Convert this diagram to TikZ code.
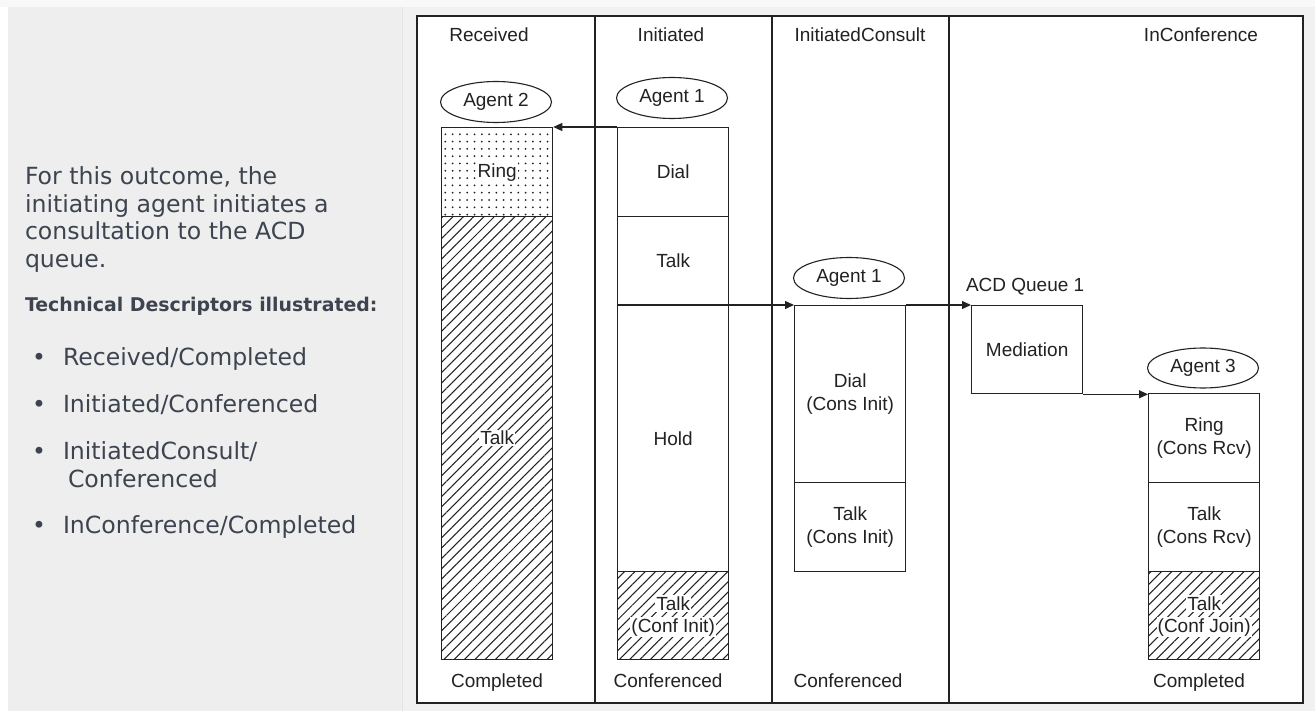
\documentclass[tikz,border=0pt]{standalone}
\usepackage{fontspec}
\usetikzlibrary{shapes.geometric,arrows.meta,patterns.meta}
\newfontfamily\diagfont{Liberation Sans}
\newfontfamily\bodyfont{DejaVu Sans}
\newcommand\dgfont{\diagfont\fontsize{19}{23}\selectfont}
\newcommand\bdfont{\bodyfont\fontsize{23.6}{27.4}\selectfont}
\newcommand\bdboldfont{\bodyfont\bfseries\fontsize{18.9}{22}\selectfont}
\definecolor{txt}{HTML}{3D4450}
\definecolor{panel}{HTML}{EEEEEE}
\definecolor{pagebg}{HTML}{F1F1F1}
\definecolor{topstrip}{HTML}{F8F8F8}
\definecolor{sepline}{HTML}{DFE3E8}
\definecolor{ink}{HTML}{222222}
\begin{document}
\begin{tikzpicture}[x=1pt,y=-1pt,
  every node/.style={inner sep=0pt, outer sep=0pt},
  seg/.style={draw=ink, line width=1.3pt, minimum width=111pt, anchor=north west,
              font=\dgfont, align=center, text=ink, outer sep=0.65pt},
  hatch/.style={pattern={Lines[angle=45,distance=7.3pt,line width=1.05pt]}, pattern color=ink},
  dotty/.style={pattern={Dots[distance=7.3pt,radius=1pt]}, pattern color=ink},
  lbl/.style={font=\dgfont, text=ink, fill=white, inner sep=1.2pt},
  agent/.style={ellipse, draw=ink, line width=1.1pt, minimum width=111pt,
                minimum height=41pt, font=\dgfont, text=ink, fill=white, outer sep=0.6pt},
  colhead/.style={font=\dgfont, text=ink, anchor=base},
  arr/.style={draw=ink, line width=1.2pt, -{Triangle[length=9pt,width=8pt]}},
  body/.style={font=\bdfont, text=txt, anchor=base west, align=left},
]
\useasboundingbox (0,0) rectangle (1315,711);
% page background
\fill[pagebg] (0,0) rectangle (1315,711);
\fill[topstrip] (0,0) rectangle (1315,7);
\fill[white] (0,7) rectangle (8,711);
\fill[panel] (8,7) rectangle (401,711);
\draw[sepline, line width=1pt] (402,7) -- (402,711);

% left text
\node[body] (intro) at (25,267.2) {For this outcome, the\\initiating agent initiates a\\consultation to the ACD\\queue.};
\node[font=\bdboldfont, text=txt, anchor=base west] (tdhead) at (25,311.7) {Technical Descriptors illustrated:};
\node[body] (b1dot) at (32,366) {•};
\node[body] (b1) at (63,366) {Received/Completed};
\node[body] (b2dot) at (32,412.7) {•};
\node[body] (b2) at (63,412.7) {Initiated/Conferenced};
\node[body] (b3dot) at (32,459.8) {•};
\node[body] (b3) at (63,459.8) {InitiatedConsult/};
\node[body] (b3b) at (68,487.2) {Conferenced};
\node[body] (b4dot) at (32,533.9) {•};
\node[body] (b4) at (63,533.9) {InConference/Completed};

% diagram frame
\fill[white] (417,16) rectangle (1303,703);
\draw[ink, line width=1.4pt] (595,16) -- (595,703);
\draw[ink, line width=1.4pt] (772,16) -- (772,703);
\draw[ink, line width=1.4pt] (949,16) -- (949,703);
\draw[ink, line width=1.6pt] (417,16) rectangle (1303,703);

% column headers and footers
\node[colhead] (hrec) at (489,41.5) {Received};
\node[colhead] (hini) at (671,41.5) {Initiated};
\node[colhead] (hcon) at (860,41.5) {InitiatedConsult};
\node[colhead] (hinc) at (1201,41.5) {InConference};
\node[colhead] (frec) at (497,687) {Completed};
\node[colhead] (fini) at (668,687) {Conferenced};
\node[colhead] (fcon) at (848,687) {Conferenced};
\node[colhead] (finc) at (1199,687) {Completed};

% Received column (Agent 2)
\node[agent] (a2) at (496,102) {Agent 2};
\node[seg, dotty, minimum height=89pt] (ring2) at (441,127) {};
\node[lbl] (ring2l) at (ring2) {Ring};
\node[seg, hatch, minimum height=443pt] (talk2) at (441,216) {};
\node[lbl] (talk2l) at (talk2) {Talk};

% Initiated column (Agent 1)
\node[agent] (a1) at (672,98) {Agent 1};
\node[seg, minimum height=89pt] (dial1) at (617,127) {Dial};
\node[seg, minimum height=89pt] (talk1) at (617,216) {Talk};
\node[seg, minimum height=266pt] (hold1) at (617,305) {Hold};
\node[seg, hatch, minimum height=88pt] (conf1) at (617,571) {};
\node[lbl] (conf1a) at ([yshift=12pt]conf1.center) {Talk};
\node[lbl] (conf1b) at ([yshift=-11.5pt]conf1.center) {(Conf Init)};

% InitiatedConsult column (Agent 1)
\node[agent] (a1c) at (849,278) {Agent 1};
\node[seg, minimum height=177pt] (cdial) at (794,305) {Dial\\(Cons Init)};
\node[seg, minimum height=89pt] (ctalk) at (794,482) {Talk\\(Cons Init)};

% InConference column
\node[font=\dgfont, text=ink, anchor=base west] (acd) at (966,291.5) {ACD Queue 1};
\node[seg, minimum height=88pt] (med) at (971,305) {Mediation};
\node[agent, minimum height=40pt] (a3) at (1203,368) {Agent 3};
\node[seg, minimum height=89pt] (ring3) at (1148,393) {Ring\\(Cons Rcv)};
\node[seg, minimum height=89pt] (talk3) at (1148,482) {Talk\\(Cons Rcv)};
\node[seg, hatch, minimum height=88pt] (join3) at (1148,571) {};
\node[lbl] (join3a) at ([yshift=12pt]join3.center) {Talk};
\node[lbl] (join3b) at ([yshift=-11.5pt]join3.center) {(Conf Join)};

% connectors
\draw[arr] (dial1.north west) -- (ring2.north east);
\draw[arr] (hold1.north west) -- (cdial.north west);
\draw[arr] (cdial.north east) -- (med.north west);
\draw[arr] (med.south east) -- (med.south east -| ring3.north west);
\end{tikzpicture}
\end{document}
